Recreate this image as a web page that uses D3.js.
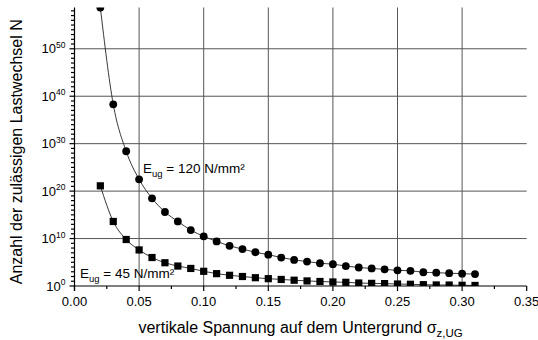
<!DOCTYPE html>
<html>
<head>
<meta charset="utf-8">
<script src="https://cdn.jsdelivr.net/npm/d3@7"></script>
<style>
  body { margin: 0; background: #fff; }
  svg { font-family: Arial, "Liberation Sans", sans-serif; }
</style>
</head>
<body>
<div class="chart"></div>
<script>
const width = 538;
const height = 340;

// stress values on the subgrade
const sigma = [0.02, 0.03, 0.04, 0.05, 0.06, 0.07, 0.08, 0.09, 0.10, 0.11,
  0.12, 0.13, 0.14, 0.15, 0.16, 0.17, 0.18, 0.19, 0.20, 0.21,
  0.22, 0.23, 0.24, 0.25, 0.26, 0.27, 0.28, 0.29, 0.30, 0.31];
// E_ug = 120 N/mm2 (circles)
const n120 = [5e58, 2e38, 2.5e28, 3e22, 3e18, 4e15, 4e13, 6e11, 3e10, 2.5e9,
  3e8, 6e7, 1.3e7, 4e6, 1e6, 3.2e5, 1.4e5, 6.3e4, 4e4, 1.6e4,
  8e3, 5e3, 3.2e3, 2e3, 1.6e3, 800, 630, 500, 400, 320];
// E_ug = 45 N/mm2 (squares)
const n45 = [1.3e21, 4e13, 6.3e9, 4e7, 1e6, 8e4, 1.6e4, 5e3, 1.25e3, 400,
  180, 100, 56, 35, 24, 16.6, 11.7, 8.9, 7.1, 6,
  4.3, 3.6, 3.2, 2.6, 2.3, 1.9, 1.65, 1.6, 1.4, 1.3];

const xTicks = [0, 0.05, 0.10, 0.15, 0.20, 0.25, 0.30, 0.35];
const yExponents = [0, 10, 20, 30, 40, 50];

const margin = { left: 74.5, right: 11.3, top: 7.5, bottom: 54 };

const svg = d3.select('.chart').append('svg')
  .attr('width', width)
  .attr('height', height);

const scaleX = d3.scaleLinear()
  .domain([0, 0.35])
  .range([margin.left, width - margin.right]);
const scaleY = d3.scaleLog()
  .domain([1, Math.pow(10, 58.7)])
  .range([height - margin.bottom, margin.top]);

const x0 = scaleX.range()[0], x1 = scaleX.range()[1];
const y0 = scaleY.range()[0], y1 = scaleY.range()[1];

// grid
const grid = svg.append('g').attr('stroke', '#555').attr('stroke-width', 1);
xTicks.filter((t) => t > 0 && t < 0.35).forEach((t) => {
  grid.append('line')
    .attr('x1', scaleX(t)).attr('x2', scaleX(t))
    .attr('y1', y0).attr('y2', y1);
});
yExponents.filter((e) => e > 0).forEach((e) => {
  grid.append('line')
    .attr('x1', x0).attr('x2', x1)
    .attr('y1', scaleY(Math.pow(10, e))).attr('y2', scaleY(Math.pow(10, e)));
});

// data, clipped to plot area
svg.append('clipPath').attr('id', 'plotclip')
  .append('rect')
  .attr('x', x0).attr('y', y1)
  .attr('width', x1 - x0).attr('height', y0 - y1);

const plot = svg.append('g').attr('clip-path', 'url(#plotclip)');

const line = d3.line()
  .x((d) => scaleX(d[0]))
  .y((d) => scaleY(d[1]))
  .curve(d3.curveMonotoneX);

const series120 = sigma.map((s, i) => [s, n120[i]]);
const series45 = sigma.map((s, i) => [s, n45[i]]);

[series120, series45].forEach((series) => {
  plot.append('path')
    .attr('d', line(series))
    .attr('fill', 'none')
    .attr('stroke', '#222')
    .attr('stroke-width', 0.9);
});

plot.selectAll('circle.m120').data(series120).enter().append('circle')
  .attr('cx', (d) => scaleX(d[0]))
  .attr('cy', (d) => scaleY(d[1]))
  .attr('r', 3.9)
  .attr('fill', '#000');

plot.selectAll('rect.m45').data(series45).enter().append('rect')
  .attr('x', (d) => scaleX(d[0]) - 3.6)
  .attr('y', (d) => scaleY(d[1]) - 3.6)
  .attr('width', 7.2)
  .attr('height', 7.2)
  .attr('fill', '#000');

// axes
const axes = svg.append('g').attr('stroke', '#000').attr('stroke-width', 1.2);
axes.append('line').attr('x1', x0).attr('x2', x0).attr('y1', y1).attr('y2', y0 + 5);
axes.append('line').attr('x1', x0).attr('x2', x1).attr('y1', y0).attr('y2', y0);

// x ticks
d3.range(0, 15).forEach((i) => {
  const v = i * 0.025;
  const major = i % 2 === 0;
  axes.append('line')
    .attr('x1', scaleX(v)).attr('x2', scaleX(v))
    .attr('y1', y0).attr('y2', y0 + (major ? 5 : 3));
});
// y ticks: one per decade
d3.range(0, 59).forEach((e) => {
  const major = e % 10 === 0;
  axes.append('line')
    .attr('x1', x0 - (major ? 5 : 3.5)).attr('x2', x0)
    .attr('y1', scaleY(Math.pow(10, e))).attr('y2', scaleY(Math.pow(10, e)));
});

// tick labels
svg.append('g').selectAll('text').data(xTicks).enter().append('text')
  .attr('x', (d) => scaleX(d))
  .attr('y', y0 + 19.5)
  .attr('text-anchor', 'middle')
  .attr('font-size', 13)
  .text((d) => d.toFixed(2));

const yl = svg.append('g').selectAll('text').data(yExponents).enter().append('text')
  .attr('x', x0 - 9)
  .attr('y', (d) => scaleY(Math.pow(10, d)) + 4.5)
  .attr('text-anchor', 'end')
  .attr('font-size', 13);
yl.append('tspan').text('10');
yl.append('tspan').attr('dy', -5.5).attr('font-size', 8.5).text((d) => d);

// axis titles
svg.append('text')
  .attr('transform', 'translate(22,' + ((y0 + y1) / 2 + 5) + ') rotate(-90)')
  .attr('text-anchor', 'middle')
  .attr('font-size', 16)
  .text('Anzahl der zulässigen Lastwechsel N');

const xt = svg.append('text')
  .attr('x', (x0 + x1) / 2)
  .attr('y', 333)
  .attr('text-anchor', 'middle')
  .attr('font-size', 16);
xt.append('tspan').text('vertikale Spannung auf dem Untergrund σ');
xt.append('tspan').attr('dy', 4).attr('font-size', 11.5).text('z,UG');

// annotations
const a120 = svg.append('text').attr('x', 143).attr('y', 172.5).attr('font-size', 13.5);
a120.append('tspan').text('E');
a120.append('tspan').attr('dy', 4).attr('font-size', 9.5).text('ug');
a120.append('tspan').attr('dy', -4).text(' = 120 N/mm²');

const a45 = svg.append('text').attr('x', 80).attr('y', 278).attr('font-size', 13.5);
a45.append('tspan').text('E');
a45.append('tspan').attr('dy', 4).attr('font-size', 9.5).text('ug');
a45.append('tspan').attr('dy', -4).text(' = 45 N/mm²');
</script>
</body>
</html>
